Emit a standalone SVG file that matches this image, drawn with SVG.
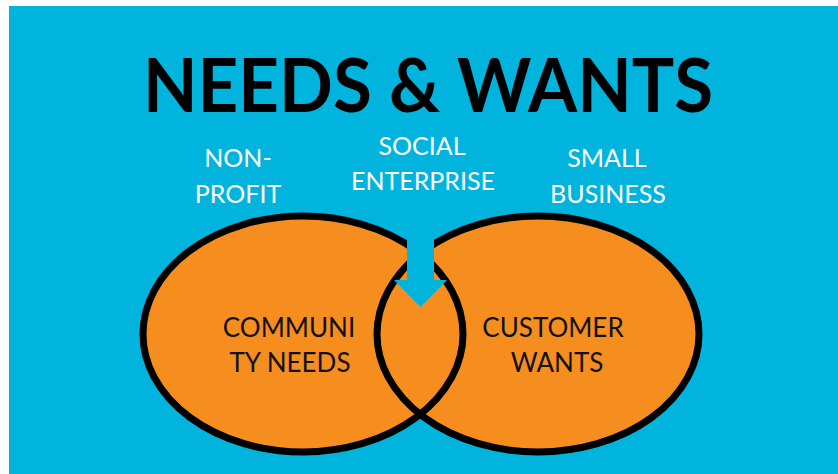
<svg xmlns="http://www.w3.org/2000/svg" width="838" height="474" viewBox="0 0 838 474">
  <style>
    .title { font-family: Lato, "Open Sans", "Liberation Sans", sans-serif; font-weight: 700; font-size: 75px; fill: #000; }
    .cap { font-family: Lato, "Open Sans", "Liberation Sans", sans-serif; font-size: 25px; fill: #fff; text-anchor: middle; }
    .inner { font-family: Lato, "Open Sans", "Liberation Sans", sans-serif; font-size: 26px; fill: #111; text-anchor: middle; }
    .set { fill: #F68E1F; }
    .rim { fill: none; stroke: #000; stroke-width: 7; }
  </style>

  <!-- backdrop -->
  <rect x="0" y="0" width="838" height="474" fill="#fff"/>
  <rect x="9" y="6" width="829" height="468" fill="#00B4DE"/>

  <g id="title">
    <text class="title" x="143" y="112" textLength="570" lengthAdjust="spacingAndGlyphs">NEEDS &amp; WANTS</text>
  </g>

  <g id="label-nonprofit">
    <text class="cap" x="238" y="167">NON-</text>
    <text class="cap" x="238" y="203">PROFIT</text>
  </g>
  <g id="label-social">
    <text class="cap" x="422" y="155">SOCIAL</text>
    <text class="cap" x="423" y="190">ENTERPRISE</text>
  </g>
  <g id="label-small">
    <text class="cap" x="607" y="167">SMALL</text>
    <text class="cap" x="608" y="203">BUSINESS</text>
  </g>

  <!-- the two sets: fills first, then outlines so both rims show in the overlap -->
  <g id="set-needs">
    <ellipse class="set" cx="303" cy="334" rx="160" ry="118"/>
  </g>
  <g id="set-wants">
    <ellipse class="set" cx="538" cy="334" rx="161" ry="118"/>
  </g>
  <g id="rims">
    <ellipse class="rim" cx="303" cy="334" rx="160" ry="118"/>
    <ellipse class="rim" cx="538" cy="334" rx="161" ry="118"/>
  </g>

  <g id="connectors">
    <path d="M407 212 H434 V280 H447 L420.5 307 L394 280 H407 Z" fill="#00B4DE"/>
  </g>

  <g id="needs-text">
    <text class="inner" x="289" y="337">COMMUNI</text>
    <text class="inner" x="290" y="372">TY NEEDS</text>
  </g>
  <g id="wants-text">
    <text class="inner" x="553" y="337">CUSTOMER</text>
    <text class="inner" x="557" y="372">WANTS</text>
  </g>
</svg>
